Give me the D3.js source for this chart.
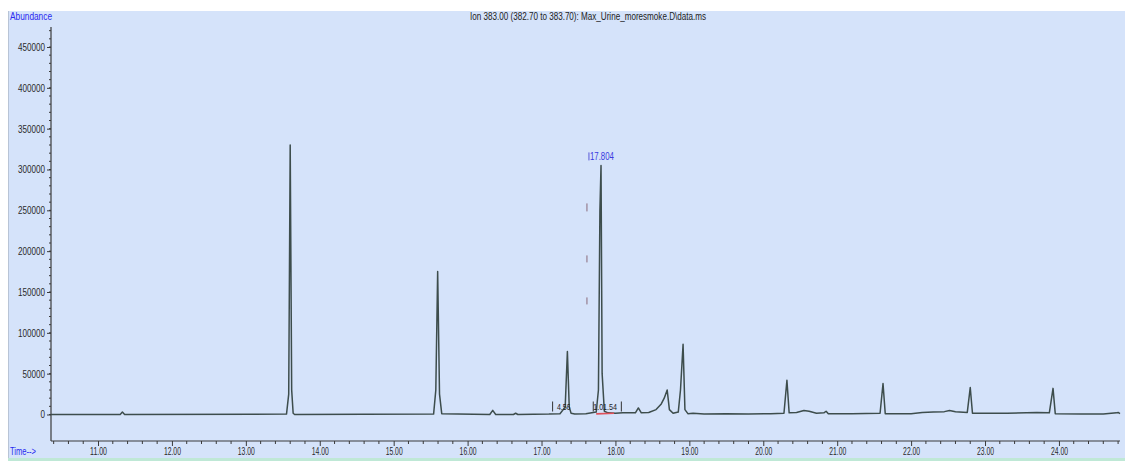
<!DOCTYPE html>
<html>
<head>
<meta charset="utf-8">
<script src="https://cdn.jsdelivr.net/npm/d3@7/dist/d3.min.js"></script>
<style>
  html, body { margin: 0; padding: 0; background: #ffffff; }
  svg { display: block; }
  text { font-family: "Liberation Sans Narrow", "Liberation Sans", "DejaVu Sans Condensed", Arial, sans-serif; }
</style>
</head>
<body>
<svg id="chart" width="1125" height="461"></svg>
<script>
// Total ion trace for m/z 383 (retention time in minutes, abundance in counts)
const traceTime = [
  10.36, 11.30, 11.33, 11.36,
  13.55, 13.58, 13.60, 13.62, 13.64, 13.66,
  15.54, 15.57, 15.595, 15.62, 15.65,
  16.30, 16.34, 16.38, 16.62, 16.65, 16.68,
  17.10, 17.25, 17.32, 17.35, 17.375, 17.40, 17.45,
  17.60, 17.74, 17.77, 17.79, 17.805, 17.82, 17.85, 17.90,
  18.00, 18.10, 18.27, 18.31, 18.35, 18.45, 18.55, 18.62, 18.66, 18.70, 18.73, 18.78,
  18.85, 18.88, 18.915, 18.94, 18.98, 19.05, 19.20, 19.50, 19.80, 20.10, 20.28,
  20.32, 20.35, 20.45, 20.55, 20.62, 20.72, 20.82, 20.85, 20.88, 21.20, 21.58,
  21.62, 21.65, 22.00, 22.15, 22.30, 22.45, 22.52, 22.60, 22.76,
  22.80, 22.83, 23.30, 23.70, 23.87,
  23.92, 23.95, 24.30, 24.60, 24.78, 24.80, 24.826
];
const traceAbundance = [
  0, 0, 3000, 0,
  500, 25000, 330000, 30000, 1500, 0,
  500, 30000, 175000, 25000, 1000,
  0, 5000, 0, 0, 1500, 0,
  500, 1000, 9000, 77000, 9000, 1500, 500,
  1000, 3000, 30000, 250000, 305000, 50000, 4000, 2000,
  1500, 2000, 2000, 8000, 2000, 2500, 6000, 13000, 20000, 30000, 6000, 1500,
  3000, 30000, 86000, 6000, 1000, 1500, 500, 1000, 500, 1000, 1500,
  42000, 2000, 2500, 5000, 4000, 1500, 2000, 4000, 1000, 1000, 1500,
  38000, 1000, 1000, 2500, 3000, 3500, 5000, 3500, 2500,
  33000, 1500, 1500, 2500, 2000,
  32000, 1000, 500, 500, 2000, 2500, 1000
];
const trace = traceTime.map((t, i) => ({ t: t, a: traceAbundance[i] }));

// Axis ticks
const yTickValues = [0, 50000, 100000, 150000, 200000, 250000, 300000, 350000, 400000, 450000];
const xTickValues = [11, 12, 13, 14, 15, 16, 17, 18, 19, 20, 21, 22, 23, 24];

// Annotations
const titleText = "Ion 383.00 (382.70 to 383.70): Max_Urine_moresmoke.D\\data.ms";
const apexTime = 17.804;
const apexAbundance = 305000;
const apexLabel = "17.804";
const integrationLabels = [
  { t: 17.30, a: 6000, text: "4.56" },
  { t: 17.86, a: 6000, text: "1.01.54" }
];
const markTimes = [17.15, 17.70, 18.08];

const svg = d3.select("#chart");
const W = 1125, H = 461;

// Panel background
svg.append("rect").attr("x", 8).attr("y", 11).attr("width", W - 8).attr("height", H - 14)
  .attr("fill", "#d5e3fa");
svg.append("line").attr("x1", 8.5).attr("x2", 8.5).attr("y1", 11).attr("y2", H - 3)
  .attr("stroke", "#b8c4d6").attr("stroke-width", 1);
svg.append("rect").attr("x", 8).attr("y", H - 3).attr("width", W - 8).attr("height", 3)
  .attr("fill", "#bfe8d6");

// Scales
const x = d3.scaleLinear().domain([10.364, 24.826]).range([51, 1120]);
const y = d3.scaleLinear().domain([0, 450000]).range([414.5, 47]);
const yBottom = 441, yTop = 27;

// Y axis
const yAxisG = svg.append("g").attr("transform", "translate(51,0)");
yAxisG.append("line").attr("x1", 0).attr("x2", 0).attr("y1", yTop).attr("y2", yBottom)
  .attr("stroke", "#3a3a3a").attr("stroke-width", 1.2);
const yMinor = d3.range(0, 470001, 10000);
yAxisG.selectAll("line.minor").data(yMinor).join("line").attr("class", "minor")
  .attr("x1", -2).attr("x2", 0).attr("y1", d => y(d)).attr("y2", d => y(d))
  .attr("stroke", "#3a3a3a").attr("stroke-width", 1);
const yAxis = d3.axisLeft(y).tickValues(yTickValues).tickSize(4).tickPadding(2)
  .tickFormat(d3.format("d"));
const yAx = svg.append("g").attr("transform", "translate(51,0)").call(yAxis);
yAx.select(".domain").remove();
yAx.selectAll(".tick line").attr("stroke", "#3a3a3a");
yAx.selectAll(".tick text")
  .attr("font-size", 10.5).attr("fill", "#2a2a2a")
  .attr("textLength", d => String(d).length * 4.5)
  .attr("lengthAdjust", "spacingAndGlyphs");

// X axis
const xAxisG = svg.append("g").attr("transform", `translate(0,${yBottom})`);
xAxisG.append("line").attr("x1", 51).attr("x2", 1120).attr("y1", 0).attr("y2", 0)
  .attr("stroke", "#3a3a3a").attr("stroke-width", 1.2);
const xMinor = d3.range(10.4, 24.81, 0.2).filter(v => Math.abs(v - Math.round(v)) > 0.01);
xAxisG.selectAll("line.minor").data(xMinor).join("line").attr("class", "minor")
  .attr("x1", d => x(d)).attr("x2", d => x(d)).attr("y1", 0).attr("y2", 3)
  .attr("stroke", "#3a3a3a").attr("stroke-width", 1);
const xAxis = d3.axisBottom(x).tickValues(xTickValues).tickSize(5).tickPadding(2)
  .tickFormat(d3.format(".2f"));
const xAx = svg.append("g").attr("transform", `translate(0,${yBottom})`).call(xAxis);
xAx.select(".domain").remove();
xAx.selectAll(".tick line").attr("stroke", "#3a3a3a");
xAx.selectAll(".tick text")
  .attr("font-size", 10.5).attr("fill", "#2a2a2a")
  .attr("textLength", 17).attr("lengthAdjust", "spacingAndGlyphs");

// Trace
const line = d3.line().x(d => x(d.t)).y(d => y(d.a));
svg.append("path").datum(trace).attr("d", line)
  .attr("fill", "none").attr("stroke", "#3d4d4c").attr("stroke-width", 1.5)
  .attr("stroke-linejoin", "round");

// Integration baseline under the main peak
svg.append("line")
  .attr("x1", x(17.74)).attr("x2", x(17.98)).attr("y1", y(800)).attr("y2", y(1500))
  .attr("stroke", "#e0505a").attr("stroke-width", 1.6);

// Integration markers and labels
svg.selectAll("line.mark").data(markTimes).join("line").attr("class", "mark")
  .attr("x1", d => x(d)).attr("x2", d => x(d)).attr("y1", y(0) - 13).attr("y2", y(0) - 3)
  .attr("stroke", "#333").attr("stroke-width", 1);
svg.selectAll("text.ilab").data(integrationLabels).join("text").attr("class", "ilab")
  .attr("x", d => x(d.t)).attr("y", d => y(d.a))
  .attr("text-anchor", "middle").attr("font-size", 9).attr("fill", "#222")
  .attr("textLength", d => d.text.length * 3.4).attr("lengthAdjust", "spacingAndGlyphs")
  .text(d => d.text);

// Apex marker: dashed guide and retention time label
const guideX = x(apexTime) - 14;
const guideSegs = [[y(apexAbundance) + 38, y(apexAbundance) + 46],
                   [y(apexAbundance) + 90, y(apexAbundance) + 97],
                   [y(apexAbundance) + 132, y(apexAbundance) + 139]];
svg.selectAll("line.guide").data(guideSegs).join("line").attr("class", "guide")
  .attr("x1", guideX).attr("x2", guideX).attr("y1", d => d[0]).attr("y2", d => d[1])
  .attr("stroke", "#8a6a7a").attr("stroke-width", 1);
svg.append("line").attr("x1", guideX + 2).attr("x2", guideX + 2)
  .attr("y1", y(apexAbundance) - 13).attr("y2", y(apexAbundance) - 5)
  .attr("stroke", "#5a5ad8").attr("stroke-width", 1);
svg.append("text").attr("x", x(apexTime) + 1).attr("y", y(apexAbundance) - 5)
  .attr("text-anchor", "middle").attr("font-size", 10).attr("fill", "#3a3ae0")
  .attr("textLength", 24).attr("lengthAdjust", "spacingAndGlyphs")
  .text(apexLabel);

// Header texts
svg.append("text").attr("x", 10).attr("y", 20).attr("font-size", 10).attr("fill", "#2a2af0")
  .attr("textLength", 42).attr("lengthAdjust", "spacingAndGlyphs").text("Abundance");
svg.append("text").attr("x", 588).attr("y", 20).attr("text-anchor", "middle")
  .attr("font-size", 10).attr("fill", "#222")
  .attr("textLength", 236).attr("lengthAdjust", "spacingAndGlyphs").text(titleText);
svg.append("text").attr("x", 10).attr("y", 455).attr("font-size", 10).attr("fill", "#2a2af0")
  .attr("textLength", 26).attr("lengthAdjust", "spacingAndGlyphs").text("Time-->");
</script>
</body>
</html>
